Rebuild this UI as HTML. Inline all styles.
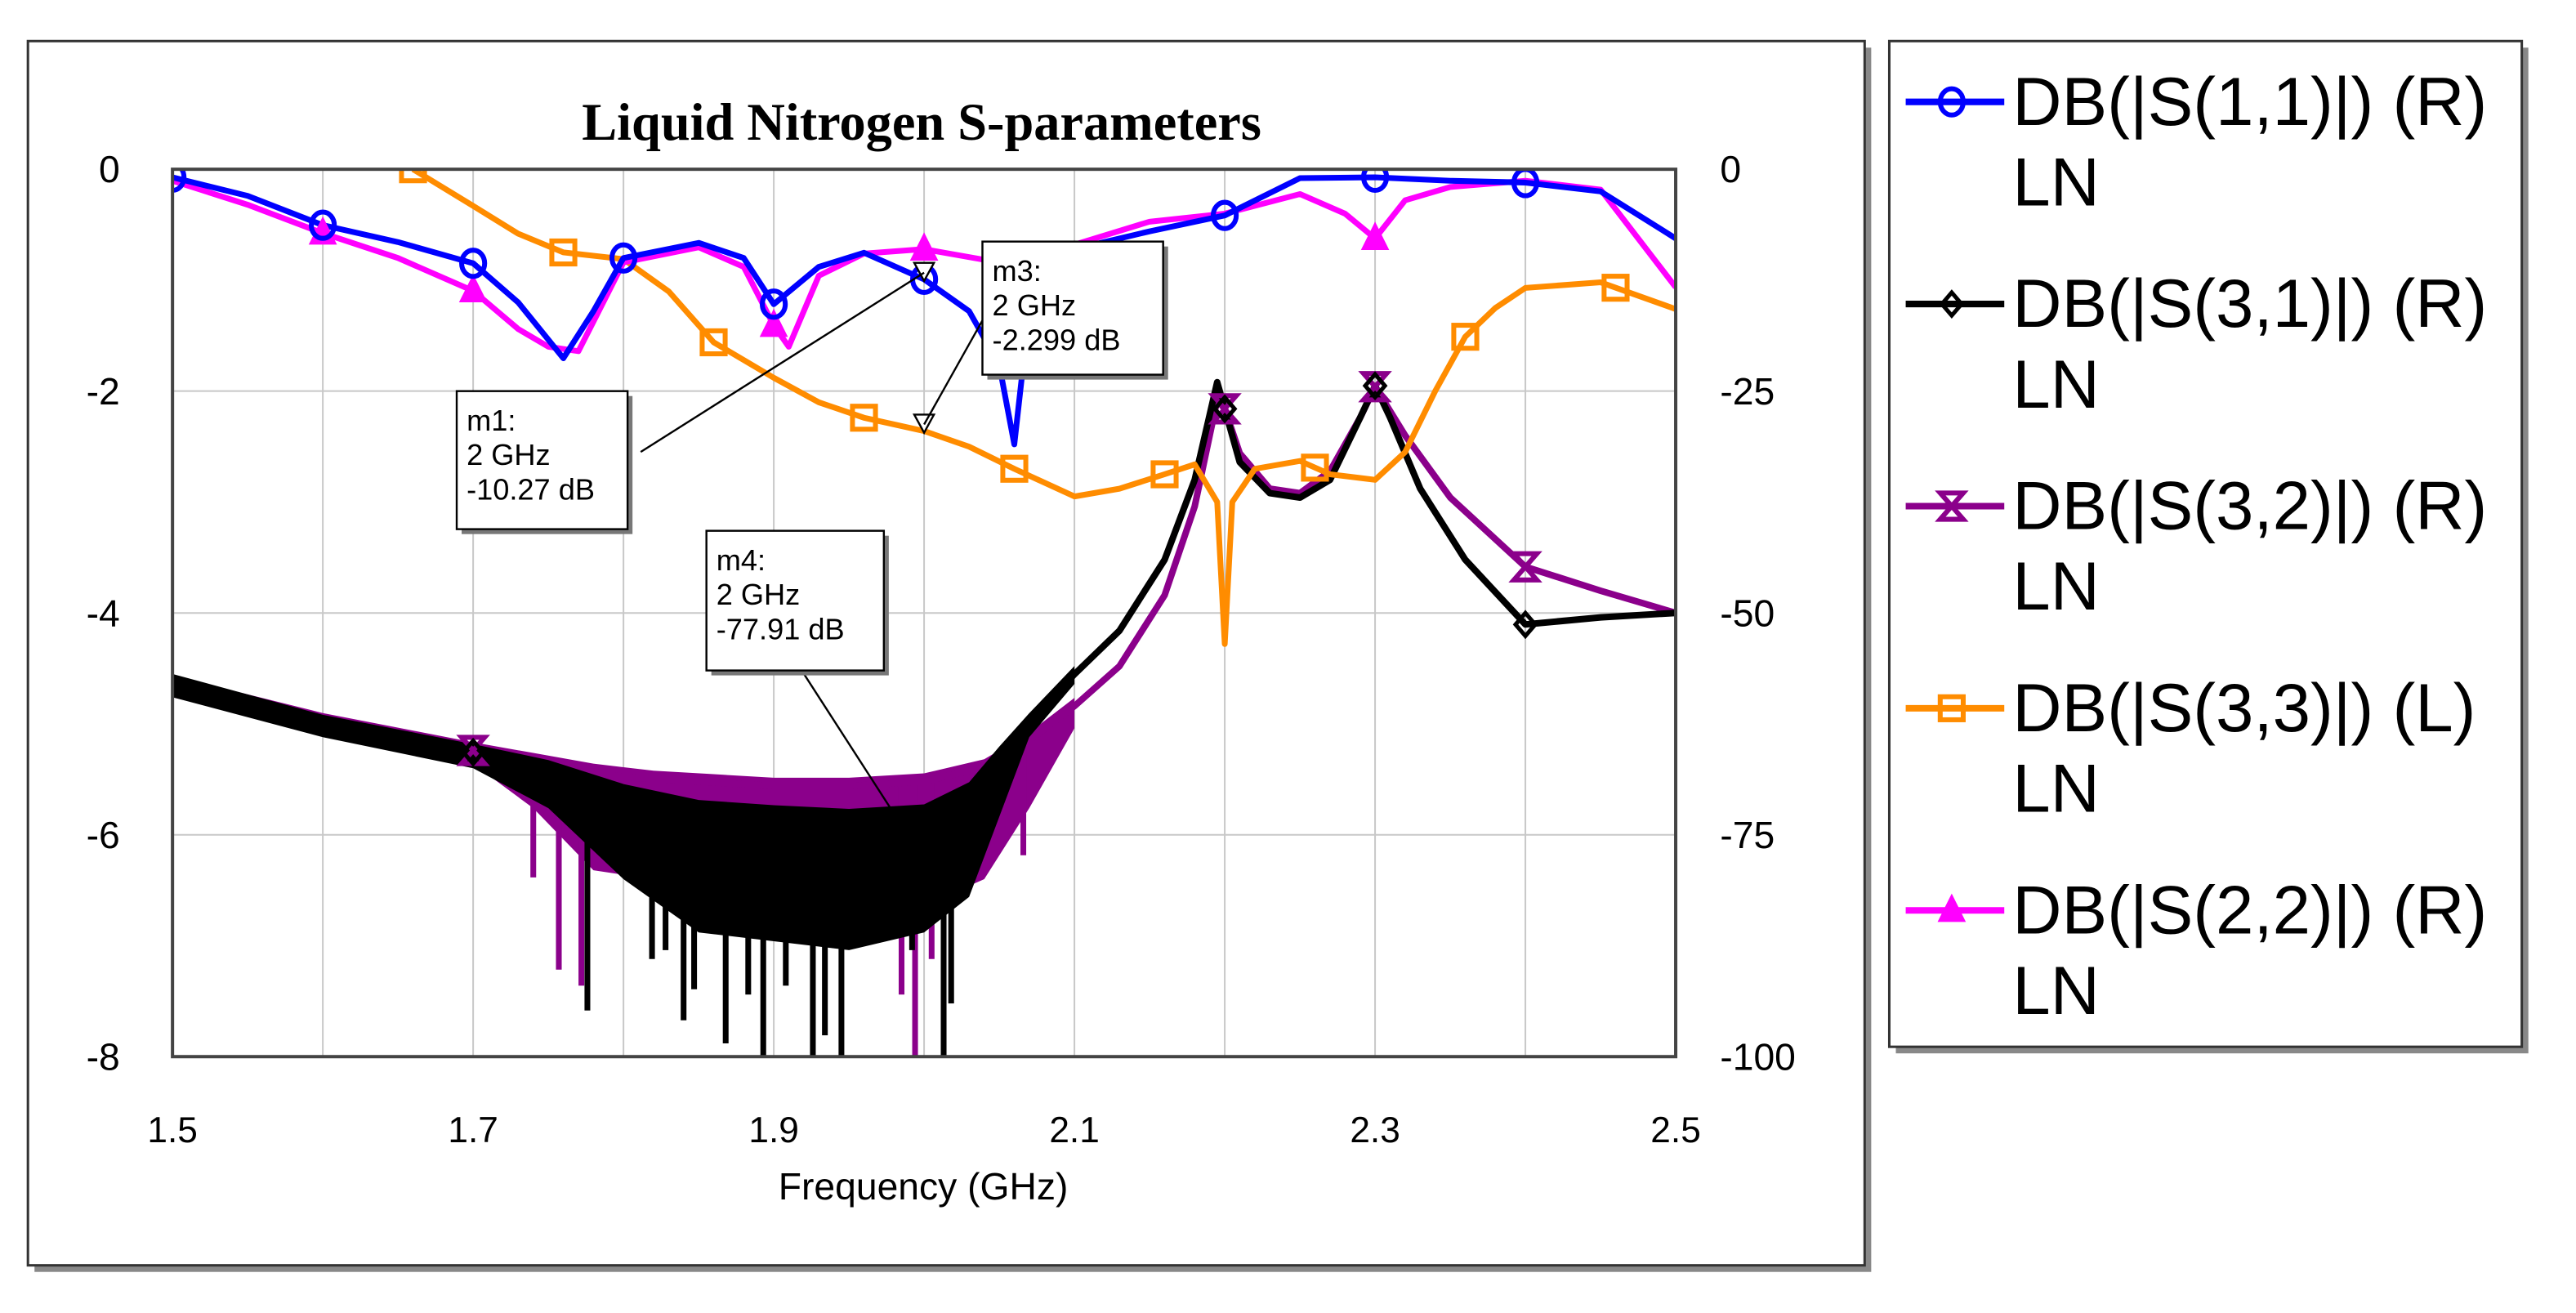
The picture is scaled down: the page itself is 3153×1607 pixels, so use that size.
<!DOCTYPE html>
<html><head><meta charset="utf-8">
<style>
html,body{margin:0;padding:0;background:#fff;}
svg{display:block;}
text{font-family:"Liberation Sans",Arial,sans-serif;}
</style></head>
<body>
<svg id="chart" width="3153" height="1607" viewBox="0 0 1568 799" preserveAspectRatio="none" xmlns="http://www.w3.org/2000/svg">
  <rect x="21" y="29" width="1118" height="745" fill="#888"/>
  <rect x="17" y="25" width="1118" height="745" fill="#fff" stroke="#333" stroke-width="1.5"/>
  <rect x="1154" y="29" width="385" height="612" fill="#888"/>
  <rect x="1150" y="25" width="385" height="612" fill="#fff" stroke="#333" stroke-width="1.5"/>
  <text x="561" y="85" text-anchor="middle" font-weight="bold" font-size="32" style="font-family:'Liberation Serif',serif">Liquid Nitrogen S-parameters</text>
  <g id="grid"></g>
  <g id="series"></g>
  <rect x="105" y="103" width="915" height="540" fill="none" stroke="#444" stroke-width="2"/>
  <g id="axes"></g>
  <text x="562" y="730" text-anchor="middle" font-size="23">Frequency (GHz)</text>
  <g id="markers"></g>
  <g id="legend"></g>
</svg>
<script>
const xTicks=[1.5,1.7,1.9,2.1,2.3,2.5];
const leftTicks=[0,-2,-4,-6,-8];
const rightTicks=[0,-25,-50,-75,-100];
// S11 (right axis)
const s11F=[1.5,1.55,1.6,1.65,1.7,1.73,1.76,1.78,1.8,1.85,1.88,1.9,1.93,1.96,2.0,2.03,2.05,2.06,2.07,2.1,2.15,2.2,2.25,2.3,2.35,2.4,2.45,2.5];
const s11V=[-0.9,-3,-6.3,-8.2,-10.6,-15,-21.3,-16,-10,-8.3,-10,-15.2,-11,-9.4,-12.4,-16,-22,-31,-16,-9,-7,-5.2,-1,-0.9,-1.3,-1.5,-2.5,-7.8];
const s11M=[1.5,1.6,1.7,1.8,1.9,2.0,2.2,2.3,2.4];
// S22 (right axis)
const s22F=[1.5,1.55,1.6,1.65,1.7,1.73,1.75,1.77,1.8,1.85,1.88,1.9,1.91,1.93,1.96,2.0,2.05,2.1,2.15,2.2,2.25,2.28,2.3,2.32,2.35,2.4,2.45,2.5];
const s22V=[-1.3,-4,-7.2,-10,-13.7,-18,-20,-20.5,-10.5,-8.8,-11,-17.6,-20,-12,-9.5,-9,-10.5,-8.5,-5.9,-5,-2.8,-5,-7.8,-3.5,-2,-1.3,-2.3,-13.3];
const s22M=[1.6,1.7,1.9,2.0,2.3];
// S33 (left axis)
const s33F=[1.66,1.7,1.73,1.76,1.8,1.83,1.86,1.9,1.93,1.96,2.0,2.03,2.06,2.1,2.13,2.16,2.18,2.195,2.2,2.205,2.22,2.25,2.27,2.3,2.32,2.34,2.36,2.38,2.4,2.45,2.5];
const s33V=[0,-0.33,-0.58,-0.75,-0.81,-1.1,-1.56,-1.88,-2.1,-2.24,-2.36,-2.5,-2.7,-2.95,-2.88,-2.75,-2.66,-3.0,-4.28,-3.0,-2.7,-2.63,-2.75,-2.8,-2.55,-2.0,-1.51,-1.25,-1.07,-1.02,-1.26];
const s33M=[1.66,1.76,1.86,1.96,2.06,2.16,2.26,2.36,2.46];
// S31 (right axis) trend + noise envelope
const s31F=[1.5,1.6,1.7,1.75,1.8,1.85,1.9,1.95,2.0,2.03,2.06,2.1,2.13,2.16,2.18,2.195,2.2,2.21,2.23,2.25,2.27,2.29,2.3,2.31,2.33,2.36,2.4,2.45,2.5];
const s31V=[-57.8,-62.4,-65.7,-67.5,-70.2,-72,-72.6,-73,-72.5,-70,-64,-56.9,-52,-44,-35,-24,-27,-33,-36.5,-37,-35,-28,-24.4,-28,-36,-44,-51.3,-50.5,-50];
const s31LowF=[1.5,1.6,1.7,1.75,1.8,1.85,1.9,1.95,2.0,2.03,2.05,2.07,2.1];
const s31LowV=[-59.5,-64,-67.5,-72,-80,-86,-87,-88,-86,-82,-73,-64,-58];
const s31SpikeF=[1.776,1.819,1.828,1.84,1.847,1.868,1.883,1.893,1.908,1.926,1.934,1.945,1.992,2.013,2.018];
const s31SpikeV=[-94.8,-89,-88,-95.9,-92.4,-98.5,-93,-100,-92,-100,-97.6,-100,-88,-100,-94];
// S32 (right axis)
const s32F=[1.5,1.6,1.7,1.75,1.8,1.85,1.9,1.95,2.0,2.05,2.1,2.13,2.16,2.18,2.195,2.2,2.21,2.23,2.25,2.27,2.29,2.3,2.32,2.35,2.4,2.45,2.5];
const s32V=[-58,-62.2,-65.5,-67,-68.5,-69,-69.5,-69.5,-69,-67,-60.5,-56,-48,-38,-26,-27,-32,-36,-36.5,-34,-28,-24.5,-30,-37,-44.8,-47.5,-50];
const s32LowF=[1.5,1.6,1.7,1.74,1.78,1.82,1.86,1.9,1.95,2.0,2.04,2.07,2.1];
const s32LowV=[-59.5,-63.5,-67,-72,-79,-80,-80,-79,-79,-83,-80,-72,-63];
const s32SpikeF=[1.74,1.757,1.772,1.85,1.985,1.994,2.005,2.066];
const s32SpikeV=[-79.8,-90.2,-92,-82,-93,-100,-89,-77.3];
const markerBoxes=[["m1:","2 GHz","-10.27 dB"],["m3:","2 GHz","-2.299 dB"],["m4:","2 GHz","-77.91 dB"]];

const L=105,R=1020,T=103,B=643;
const X=f=>L+(f-1.5)/1.0*(R-L);
const YL=v=>T+(-v)/8*(B-T);
const YR=v=>T+(-v)/100*(B-T);
const NS="http://www.w3.org/2000/svg";
function mk(tag,attrs,parent){const e=document.createElementNS(NS,tag);for(const k in attrs)e.setAttribute(k,attrs[k]);parent.appendChild(e);return e;}
function interp(F,V,f){for(let i=0;i<F.length-1;i++){if(f>=F[i]&&f<=F[i+1]){return V[i]+(V[i+1]-V[i])*(f-F[i])/(F[i+1]-F[i]);}}return f<F[0]?V[0]:V[V.length-1];}
function pts(F,V,Y){return F.map((f,i)=>X(f).toFixed(1)+","+Y(V[i]).toFixed(1)).join(" ");}

const grid=document.getElementById('grid');
for(let i=1;i<10;i++){const g=mk('line',{x1:X(1.5+i*0.1),x2:X(1.5+i*0.1),y1:T,y2:B,stroke:'#c8c8c8','stroke-width':1},grid);
}
for(let i=1;i<4;i++){const g=mk('line',{x1:L,x2:R,y1:YL(-2*i),y2:YL(-2*i),stroke:'#c8c8c8','stroke-width':1},grid);
}

const axes=document.getElementById('axes');
xTicks.forEach(t=>{const e=mk('text',{x:X(t),y:695,'text-anchor':'middle','font-size':22},axes);e.textContent=t.toFixed(1);
});
leftTicks.forEach(t=>{const e=mk('text',{x:73,y:YL(t)+8,'text-anchor':'end','font-size':23},axes);e.textContent=t;
});
rightTicks.forEach(t=>{const e=mk('text',{x:1047,y:YR(t)+8,'text-anchor':'start','font-size':23},axes);e.textContent=t;
});

const S=document.getElementById('series');
const clip=mk('clipPath',{id:'pc'},mk('defs',{},S));mk('rect',{x:L,y:T,width:R-L,height:B-T},clip);
const g=mk('g',{'clip-path':'url(#pc)'},S);

function band(F,V,LF,LV,color,name){
  const top=LF.map(f=>X(f).toFixed(1)+","+(YR(interp(F,V,f))-5).toFixed(1));
  const bot=LF.slice().reverse().map((f,i)=>X(f).toFixed(1)+","+YR(LV[LV.length-1-i]).toFixed(1));
  const p=mk('polygon',{points:top.concat(bot).join(" "),fill:color},g);
  
}
function spikes(F,V,SF,SV,color,name){
  SF.forEach((f,i)=>{const l=mk('line',{x1:X(f),x2:X(f),y1:YR(interp(F,V,f)),y2:YR(SV[i]),stroke:color,'stroke-width':3.5},g);
  });
}
band(s32F,s32V,s32LowF,s32LowV,'#8b008b','s32-noise-band');
spikes(s32F,s32V,s32SpikeF,s32SpikeV,'#8b008b','s32-noise-spike');
let e=mk('polyline',{points:pts(s32F,s32V,YR),fill:'none',stroke:'#8b008b','stroke-width':4,'stroke-linejoin':'round'},g);

band(s31F,s31V,s31LowF,s31LowV,'#000','s31-noise-band');
spikes(s31F,s31V,s31SpikeF,s31SpikeV,'#000','s31-noise-spike');
e=mk('polyline',{points:pts(s31F,s31V,YR),fill:'none',stroke:'#000','stroke-width':4,'stroke-linejoin':'round'},g);

e=mk('polyline',{points:pts(s33F,s33V,YL),fill:'none',stroke:'#ff8c00','stroke-width':3.5,'stroke-linejoin':'round'},g);

e=mk('polyline',{points:pts(s22F,s22V,YR),fill:'none',stroke:'#ff00ff','stroke-width':3.5,'stroke-linejoin':'round'},g);

e=mk('polyline',{points:pts(s11F,s11V,YR),fill:'none',stroke:'#0000ff','stroke-width':3.5,'stroke-linejoin':'round'},g);


function circ(x,y,c,p){return mk('ellipse',{cx:x,cy:y,rx:7,ry:8,fill:'none',stroke:c,'stroke-width':3},p);}
function sq(x,y,c,p){return mk('rect',{x:x-7,y:y-7,width:14,height:14,fill:'none',stroke:c,'stroke-width':3},p);}
function tri(x,y,c,p){return mk('polygon',{points:`${x},${y-8} ${x-7},${y+6} ${x+7},${y+6}`,fill:c,stroke:c,'stroke-width':2},p);}
function dia(x,y,c,p){return mk('polygon',{points:`${x},${y-7} ${x+6},${y} ${x},${y+7} ${x-6},${y}`,fill:'none',stroke:c,'stroke-width':2.5},p);}
function hg(x,y,c,p){return mk('polygon',{points:`${x-7},${y-8} ${x+7},${y-8} ${x-7},${y+8} ${x+7},${y+8}`,fill:'none',stroke:c,'stroke-width':3},p);}
[1.7,2.2,2.3,2.4].forEach(f=>{const m=hg(X(f),YR(interp(s32F,s32V,f)),'#8b008b',g);});
[1.7,2.2,2.3,2.4].forEach(f=>{const m=dia(X(f),YR(interp(s31F,s31V,f)),'#000',g);});
s33M.forEach(f=>{const m=sq(X(f),YL(interp(s33F,s33V,f)),'#ff8c00',g);});
s22M.forEach(f=>{const m=tri(X(f),YR(interp(s22F,s22V,f)),'#ff00ff',g);});
s11M.forEach(f=>{const m=circ(X(f),YR(interp(s11F,s11V,f)),'#0000ff',g);});

const M=document.getElementById('markers');
const tpos=[[X(2.0),YR(interp(s11F,s11V,2.0))-4],[X(2.0),YL(interp(s33F,s33V,2.0))-4]];
tpos.forEach(p=>{const t=mk('polygon',{points:`${p[0]-6},${p[1]-6} ${p[0]+6},${p[1]-6} ${p[0]},${p[1]+5}`,fill:'#fff',stroke:'#000','stroke-width':1.2},M);
});
const boxes=[[278,238,104,84,390,275,tpos[0][0],tpos[0][1]],[598,147,110,81,598,195,tpos[1][0],tpos[1][1]],[430,323,108,85,488,408,X(2.0)-17,YR(-73)]];
boxes.forEach((b,i)=>{
  const ln=mk('line',{x1:b[4],y1:b[5],x2:b[6],y2:b[7],stroke:'#000','stroke-width':1.2},M);
  
  mk('rect',{x:b[0]+3,y:b[1]+3,width:b[2],height:b[3],fill:'#777'},M);
  const r=mk('rect',{x:b[0],y:b[1],width:b[2],height:b[3],fill:'#fff',stroke:'#000','stroke-width':1.2},M);
  
  markerBoxes[i].forEach((s,j)=>{const t=mk('text',{x:b[0]+6,y:b[1]+24+j*21,'font-size':18},M);t.textContent=s;
  });
});

const LG=document.getElementById('legend');
const legNames=["DB(|S(1,1)|) (R)","DB(|S(3,1)|) (R)","DB(|S(3,2)|) (R)","DB(|S(3,3)|) (L)","DB(|S(2,2)|) (R)"];
const legCols=['#0000ff','#000','#8b008b','#ff8c00','#ff00ff'];
const legFns=[circ,dia,hg,sq,tri];
legNames.forEach((n,i)=>{
  const y=62+i*123;
  const ent=mk('g',{},LG);
  mk('line',{x1:1160,x2:1220,y1:y,y2:y,stroke:legCols[i],'stroke-width':4},ent);
  legFns[i](1188,y,legCols[i],ent);
  const t=mk('text',{x:1225,y:y+14,'font-size':41.5},ent);t.textContent=n;
  const t2=mk('text',{x:1225,y:y+63,'font-size':41.5},ent);t2.textContent="LN";
});
</script>
</body></html>
